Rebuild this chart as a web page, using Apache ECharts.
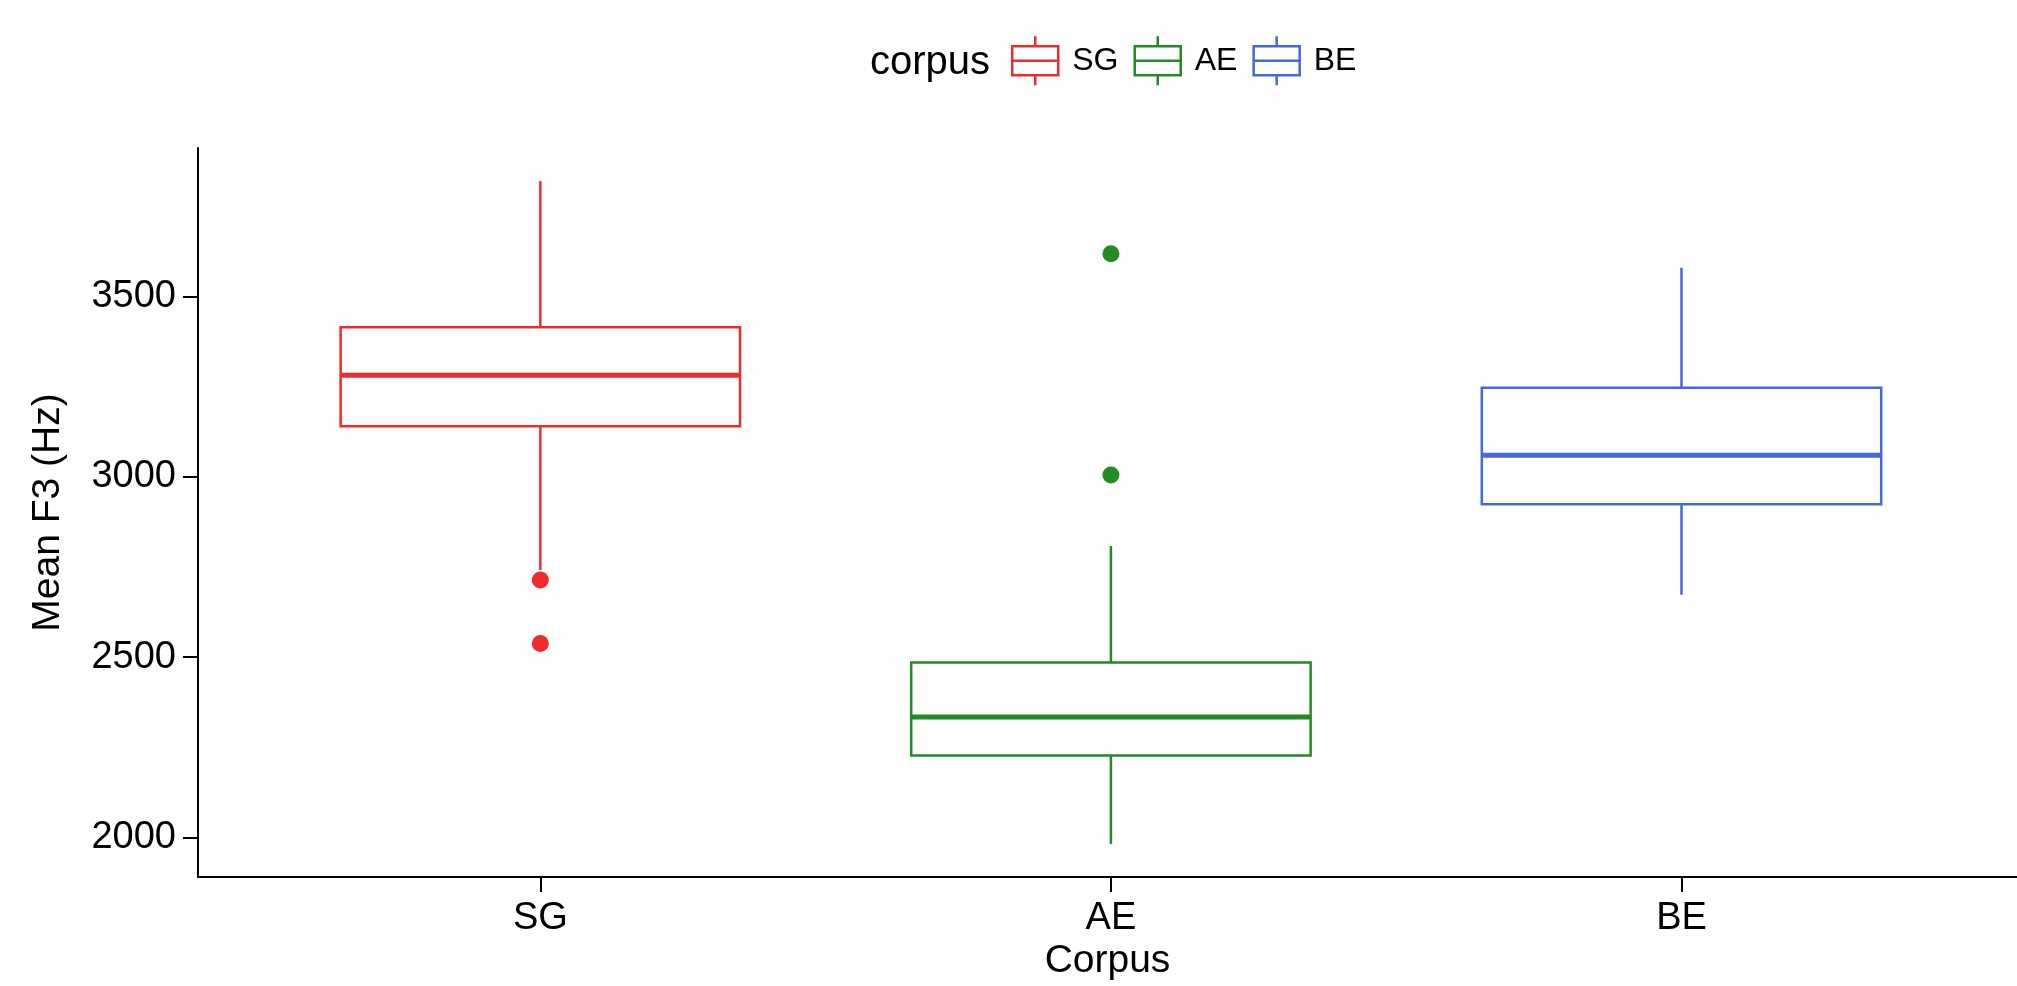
<!DOCTYPE html>
<html>
<head>
<meta charset="utf-8">
<script src="https://cdn.jsdelivr.net/npm/echarts@6/dist/echarts.min.js"></script>
<style>
  html, body { margin: 0; padding: 0; background: #fff; overflow: hidden; }
  #main { width: 2017px; height: 986px; }
</style>
</head>
<body>
<div id="main"></div>
<script>
// groups and box statistics
var categories = ['SG', 'AE', 'BE'];
var colors = ['#EE2C2C', '#228B22', '#4169E1'];
var lowWhisker = [2742, 1982, 2673];
var q1 = [3140, 2227, 2924];
var median = [3282, 2334, 3060];
var q3 = [3415, 2485, 3247];
var highWhisker = [3820, 2808, 3580];
var outliers = [[2714, 2538], [3619, 3005], []];
var yTicks = [2000, 2500, 3000, 3500];

var font = 'Liberation Sans, Arial, sans-serif';
var halfBox = 0.35;
var keyIcon = 'path://M23,0V10M0,10H46V39H0ZM0,24.5H46M23,39V49';

var myChart = echarts.init(document.getElementById('main'));

function renderBox(params, api) {
    var x = api.value(0);
    var lo = api.value(1), a = api.value(2), m = api.value(3), b = api.value(4), hi = api.value(5);
    var color = api.visual('color');
    var tl = api.coord([x - halfBox, b]);
    var br = api.coord([x + halfBox, a]);
    var pMedL = api.coord([x - halfBox, m]);
    var pMedR = api.coord([x + halfBox, m]);
    var pHi = api.coord([x, hi]);
    var pLo = api.coord([x, lo]);
    var cx = pHi[0];
    return {
        type: 'group',
        children: [
            { type: 'line', shape: { x1: cx, y1: pHi[1], x2: cx, y2: tl[1] },
              style: { stroke: color, lineWidth: 2.5 } },
            { type: 'line', shape: { x1: cx, y1: br[1], x2: cx, y2: pLo[1] },
              style: { stroke: color, lineWidth: 2.5 } },
            { type: 'rect', shape: { x: tl[0], y: tl[1], width: br[0] - tl[0], height: br[1] - tl[1] },
              style: { fill: '#fff', stroke: color, lineWidth: 2.5 } },
            { type: 'line', shape: { x1: pMedL[0], y1: pMedL[1], x2: pMedR[0], y2: pMedR[1] },
              style: { stroke: color, lineWidth: 5 } }
        ]
    };
}

var series = [];
categories.forEach(function (name, i) {
    series.push({
        name: name,
        type: 'custom',
        renderItem: renderBox,
        itemStyle: { color: colors[i] },
        encode: { x: 0, y: [1, 2, 3, 4, 5] },
        data: [[i + 1, lowWhisker[i], q1[i], median[i], q3[i], highWhisker[i]]],
        z: 2
    });
    series.push({
        name: name,
        type: 'scatter',
        symbolSize: 17,
        itemStyle: { color: colors[i], opacity: 1 },
        data: outliers[i].map(function (v) { return [i + 1, v]; }),
        z: 3
    });
});

var option = {
    backgroundColor: '#fff',
    animation: false,
    title: {
        text: 'corpus',
        left: 870,
        top: 43,
        padding: 0,
        textStyle: { fontFamily: font, fontSize: 40, fontWeight: 'normal', color: '#000' }
    },
    legend: {
        left: 1011,
        top: 35,
        padding: 0,
        itemWidth: 46,
        itemHeight: 49,
        itemGap: 15,
        textStyle: { fontFamily: font, fontSize: 32, color: '#000', padding: [0, 0, 0, 9] },
        data: categories.map(function (name, i) {
            return {
                name: name,
                icon: keyIcon,
                itemStyle: { color: '#fff', borderColor: colors[i], borderWidth: 2.5 }
            };
        })
    },
    grid: { left: 198, right: 0, top: 148, bottom: 103 },
    xAxis: {
        type: 'value',
        min: 0.4,
        max: 3.588,
        name: 'Corpus',
        nameLocation: 'middle',
        nameGap: 64,
        nameTextStyle: { fontFamily: font, fontSize: 39, color: '#000' },
        splitLine: { show: false },
        axisLine: { lineStyle: { color: '#000', width: 2 } },
        axisTick: { length: 15, customValues: [1, 2, 3], lineStyle: { color: '#000', width: 2 } },
        axisLabel: {
            customValues: [1, 2, 3],
            margin: 22,
            fontFamily: font, fontSize: 38, color: '#000',
            formatter: function (v) { return categories[Math.round(v) - 1]; }
        }
    },
    yAxis: {
        type: 'value',
        min: 1890,
        max: 3912,
        name: 'Mean F3 (Hz)',
        nameLocation: 'middle',
        nameGap: 130,
        nameTextStyle: { fontFamily: font, fontSize: 39, color: '#000' },
        splitLine: { show: false },
        axisLine: { show: true, lineStyle: { color: '#000', width: 2 } },
        axisTick: { show: true, length: 15, customValues: yTicks, lineStyle: { color: '#000', width: 2 } },
        axisLabel: {
            customValues: yTicks,
            margin: 22,
            fontFamily: font, fontSize: 38, color: '#000',
            formatter: function (v) { return String(v); }
        }
    },
    series: series
};

myChart.setOption(option);
</script>
</body>
</html>
